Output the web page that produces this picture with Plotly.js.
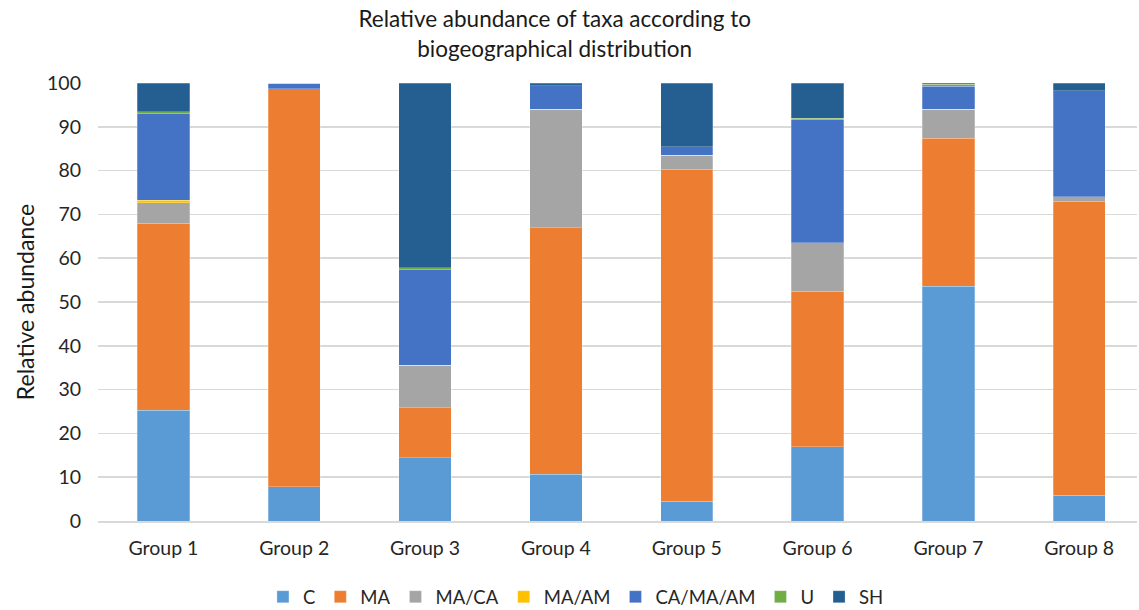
<!DOCTYPE html>
<html>
<head>
<meta charset="utf-8">
<script src="https://cdn.plot.ly/plotly-3.0.1.min.js"></script>
<style>html,body{margin:0;padding:0;background:#fff;}#chart{width:1139px;height:610px;}</style>
</head>
<body>
<div id="chart"></div>
<script>
const groups = ["Group 1","Group 2","Group 3","Group 4","Group 5","Group 6","Group 7","Group 8"];
const seriesNames = ["C","MA","MA/CA","MA/AM","CA/MA/AM","U","SH"];
const C        = [25.3, 7.8, 14.4, 10.7, 4.5, 17.0, 53.6, 5.9];
const MA       = [42.7, 90.9, 11.5, 56.3, 75.8, 35.4, 33.8, 67.1];
const MA_CA    = [4.7, 0, 9.7, 27.0, 3.2, 11.1, 6.6, 1.0];
const MA_AM    = [0.5, 0, 0, 0, 0, 0, 0, 0];
const CA_MA_AM = [19.9, 1.3, 21.9, 5.4, 1.9, 28.2, 5.3, 24.2];
const U        = [0.3, 0, 0.3, 0, 0, 0.3, 0.4, 0];
const SH       = [6.6, 0, 42.2, 0.6, 14.6, 8.0, 0.3, 1.8];
const seriesValues = [C, MA, MA_CA, MA_AM, CA_MA_AM, U, SH];
const colors = ["#5B9BD5","#ED7D31","#A5A5A5","#FFC000","#4472C4","#70AD47","#255E91"];

const font = "Lato, 'Liberation Sans', sans-serif";
const traces = seriesNames.map((n, i) => ({
  type: "bar",
  name: n,
  x: groups,
  y: seriesValues[i],
  marker: {color: colors[i], line: {color: "rgba(255,255,255,0.5)", width: 0.5}},
  hoverinfo: "x+y+name"
}));

const layout = {
  width: 1139, height: 610,
  barmode: "stack",
  bargap: 0.6,
  paper_bgcolor: "#fff", plot_bgcolor: "#fff",
  margin: {l: 98, r: 2, t: 83.3, b: 88.7, autoexpand: false},
  font: {family: font, color: "#404040", size: 18},
  title: {
    text: "Relative abundance of taxa according to<br>biogeographical distribution",
    font: {family: font, size: 22.5, color: "#1a1a1a"},
    x: 0.487, xanchor: "center", yref: "container", y: 0.955, yanchor: "middle"
  },
  xaxis: {
    range: [-0.5, 7.442],
    showgrid: false,
    showline: true, linecolor: "#d9d9d9", linewidth: 1.5,
    ticks: "",
    ticklabelstandoff: 9,
    tickfont: {family: font, size: 19.5, color: "#262626"},
    automargin: false,
    fixedrange: true
  },
  yaxis: {
    range: [0, 100],
    tickvals: [0,10,20,30,40,50,60,70,80,90,100],
    showgrid: true, gridcolor: "#d9d9d9", gridwidth: 1.5,
    zeroline: false,
    ticks: "",
    ticklen: 0,
    ticklabelstandoff: 16,
    tickfont: {family: font, size: 19.5, color: "#262626"},
    title: {text: "Relative abundance", font: {family: font, size: 23, color: "#1a1a1a"}, standoff: 6},
    automargin: false,
    fixedrange: true
  },
  legend: {
    orientation: "h",
    x: 0.46, xanchor: "center",
    yref: "container", y: 0.021, yanchor: "middle",
    font: {family: font, size: 18.5, color: "#262626"},
    traceorder: "normal",
    itemwidth: 30
  },
  showlegend: true
};

Plotly.newPlot("chart", traces, layout, {displayModeBar: false, staticPlot: true});
</script>
</body>
</html>
